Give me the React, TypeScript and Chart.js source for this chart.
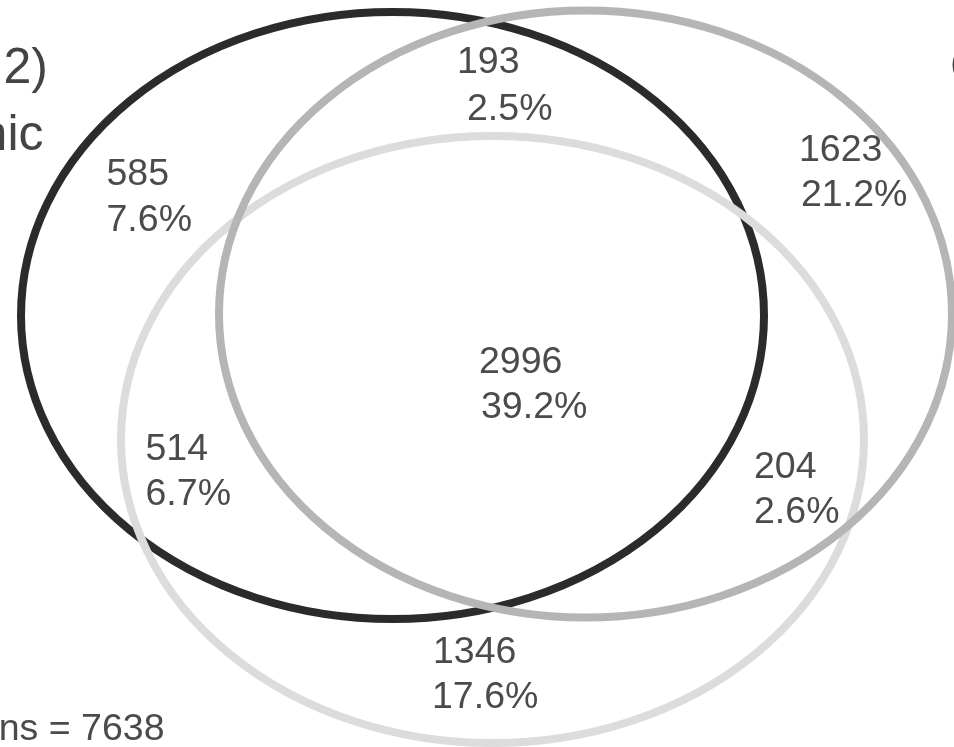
import React, { useEffect, useRef } from "react";
import { Chart, registerables } from "chart.js";

Chart.register(...registerables);

// Region counts of the three-set overlap, with their shares of all participants
const regionKeys = ["A", "AB", "B", "ABC", "AC", "BC", "C"];
const regionCounts = [585, 193, 1623, 2996, 514, 204, 1346];
const regionPercents = ["7.6%", "2.5%", "21.2%", "39.2%", "6.7%", "2.6%", "17.6%"];
const totalParticipants = 7638;

// Layout (in canvas-sized layout units, y running downward)
const WIDTH = 954;
const HEIGHT = 747;

const setShapes = [
  { key: "A", cx: 392.5, cy: 315.5, rx: 371.5, ry: 303.5, color: "#2b2b2b" },
  { key: "C", cx: 492.5, cy: 439.5, rx: 371.5, ry: 303.5, color: "#dcdcdc" },
  { key: "B", cx: 585.5, cy: 314, rx: 366.5, ry: 303.5, color: "#b5b5b5" },
];

// first-line origin, second-line origin for each region label
const labelSpots: Record<string, [number, number, number, number]> = {
  A: [106.5, 185, 106.5, 231],
  AB: [457, 73, 467, 120],
  B: [799, 161, 801, 206],
  ABC: [479, 373, 481, 418],
  AC: [145.5, 460, 145.5, 505],
  BC: [754, 478, 754, 523],
  C: [433, 663, 432, 708],
};

const FONT = '"Liberation Sans", Arial, Helvetica, sans-serif';

const vennPlugin = {
  id: "venn",
  afterDatasetsDraw(chart: any) {
    const { ctx, scales } = chart;
    const xs = scales.x;
    const ys = scales.y;
    ctx.save();

    // set outlines
    ctx.lineWidth = 8;
    for (const s of setShapes) {
      const px = xs.getPixelForValue(s.cx);
      const py = ys.getPixelForValue(s.cy);
      const rx = Math.abs(xs.getPixelForValue(s.cx + s.rx) - px);
      const ry = Math.abs(ys.getPixelForValue(s.cy + s.ry) - py);
      ctx.beginPath();
      ctx.ellipse(px, py, rx, ry, 0, 0, Math.PI * 2);
      ctx.strokeStyle = s.color;
      ctx.stroke();
    }

    // region labels
    ctx.fillStyle = "#4b4b4b";
    ctx.font = `37.5px ${FONT}`;
    ctx.textAlign = "left";
    ctx.textBaseline = "alphabetic";
    regionKeys.forEach((k, i) => {
      const [x1, y1, x2, y2] = labelSpots[k];
      ctx.fillText(String(regionCounts[i]), xs.getPixelForValue(x1), ys.getPixelForValue(y1));
      ctx.fillText(regionPercents[i], xs.getPixelForValue(x2), ys.getPixelForValue(y2));
    });

    // total count
    ctx.textAlign = "right";
    ctx.fillText(`ns = ${totalParticipants}`, xs.getPixelForValue(164.5), ys.getPixelForValue(740));

    // set titles at the edges
    ctx.fillStyle = "#444444";
    ctx.font = `50px ${FONT}`;
    ctx.textAlign = "left";
    ctx.fillText("2)", xs.getPixelForValue(3.5), ys.getPixelForValue(83));
    ctx.fillText("C", xs.getPixelForValue(950), ys.getPixelForValue(83));
    ctx.textAlign = "right";
    ctx.fillText("nic", xs.getPixelForValue(43.5), ys.getPixelForValue(150));

    ctx.restore();
  },
};

const whiteBg = {
  id: "whiteBg",
  beforeDraw(chart: any) {
    const { ctx, width, height } = chart;
    ctx.save();
    ctx.fillStyle = "#ffffff";
    ctx.fillRect(0, 0, width, height);
    ctx.restore();
  },
};

export default function App() {
  const canvasRef = useRef<HTMLCanvasElement | null>(null);

  useEffect(() => {
    if (!canvasRef.current) return;
    const chart = new Chart(canvasRef.current, {
      type: "scatter",
      data: { datasets: [{ data: [], pointRadius: 0 }] },
      options: {
        animation: false,
        responsive: false,
        devicePixelRatio: 1,
        layout: { padding: 0 },
        plugins: { legend: { display: false }, tooltip: { enabled: false } },
        scales: {
          x: { type: "linear", min: 0, max: WIDTH, display: false },
          y: { type: "linear", min: 0, max: HEIGHT, reverse: true, display: false },
        },
      },
      plugins: [whiteBg, vennPlugin],
    });
    return () => chart.destroy();
  }, []);

  return (
    <div style={{ position: "fixed", left: 0, top: 0, width: WIDTH, height: HEIGHT, background: "#fff" }}>
      <canvas ref={canvasRef} width={WIDTH} height={HEIGHT} style={{ display: "block" }} />
    </div>
  );
}
